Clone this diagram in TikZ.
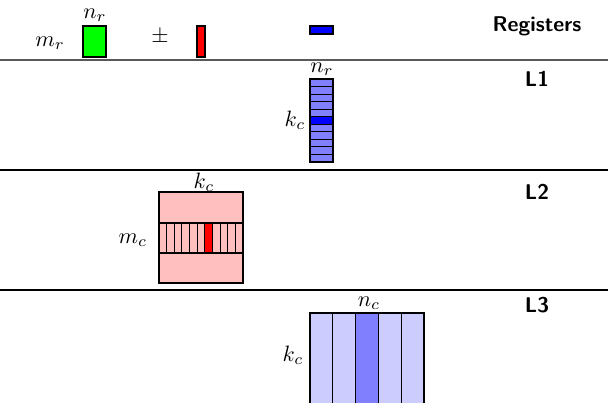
\documentclass[tikz,border=0pt]{standalone}
\begin{document}
\begin{tikzpicture}[x=0.45pt,y=-0.45pt,
  cell/.style={draw=black, line width=0.5pt},
  lbl/.style={inner sep=0pt},
  lvl/.style={font=\sffamily\bfseries, inner sep=0pt, scale=0.96},
  sep/.style={line width=0.6pt, draw=black}]
\useasboundingbox (0,0) rectangle (608,403);
% separators
\coordinate (s1a) at (0,60);  \coordinate (s1b) at (608,60);
\coordinate (s2a) at (0,170); \coordinate (s2b) at (608,170);
\coordinate (s3a) at (0,290); \coordinate (s3b) at (608,290);
\draw[sep, draw=black!65, line width=0.9pt] (s1a) -- (s1b);
\draw[sep] (s2a) -- (s2b);
\draw[sep] (s3a) -- (s3b);
% Registers row
\node[lbl] (mr) at (50,43) {$m_r$};
\node[lbl] (nr) at (95,15) {$n_r$};
\filldraw[cell, fill=green] (83,26) rectangle (106,57);
\node[lbl] (pm) at (160,37) {$\pm$};
\filldraw[cell, fill=red] (197,26) rectangle (205,57);
\filldraw[cell, fill=blue] (310,26) rectangle (333,34);
\node[lvl] (reg) at (537,26) {Registers};
% L1
\node[lbl] (nr1) at (322,69) {$n_r$};
\foreach \i in {0,...,10}{
  \pgfmathsetmacro{\ya}{79+\i*7.545}
  \pgfmathsetmacro{\yb}{79+(\i+1)*7.545}
  \ifnum\i=5
    \filldraw[cell, fill=blue] (310,\ya) rectangle (333,\yb);
  \else
    \filldraw[cell, fill=blue!50] (310,\ya) rectangle (333,\yb);
  \fi
}
\node[lbl] (kc1) at (295,120) {$k_c$};
\node[lvl] (l1) at (537,79) {L1};
% L2
\node[lbl] (kc2) at (204,182) {$k_c$};
\filldraw[cell, fill=red!25] (159,192) rectangle (243,283);
\foreach \i in {0,...,10}{
  \pgfmathsetmacro{\xa}{159+\i*7.636}
  \pgfmathsetmacro{\xb}{159+(\i+1)*7.636}
  \ifnum\i=6
    \filldraw[cell, fill=red] (\xa,223) rectangle (\xb,253);
  \else
    \filldraw[cell, fill=red!25] (\xa,223) rectangle (\xb,253);
  \fi
}
\node[lbl] (mc2) at (133,240) {$m_c$};
\node[lvl] (l2) at (537,192) {L2};
% L3
\node[lbl] (nc3) at (369,303) {$n_c$};
\foreach \i in {0,...,4}{
  \pgfmathsetmacro{\xa}{310+\i*22.8}
  \pgfmathsetmacro{\xb}{310+(\i+1)*22.8}
  \ifnum\i=2
    \fill[blue!50] (\xa,313) rectangle (\xb,403);
  \else
    \fill[blue!20] (\xa,313) rectangle (\xb,403);
  \fi
  \draw[cell] (\xa,403) -- (\xa,313) -- (\xb,313) -- (\xb,403);
}
\node[lbl] (kc3) at (293,355) {$k_c$};
\node[lvl] (l3) at (537,305) {L3};
\end{tikzpicture}
\end{document}
